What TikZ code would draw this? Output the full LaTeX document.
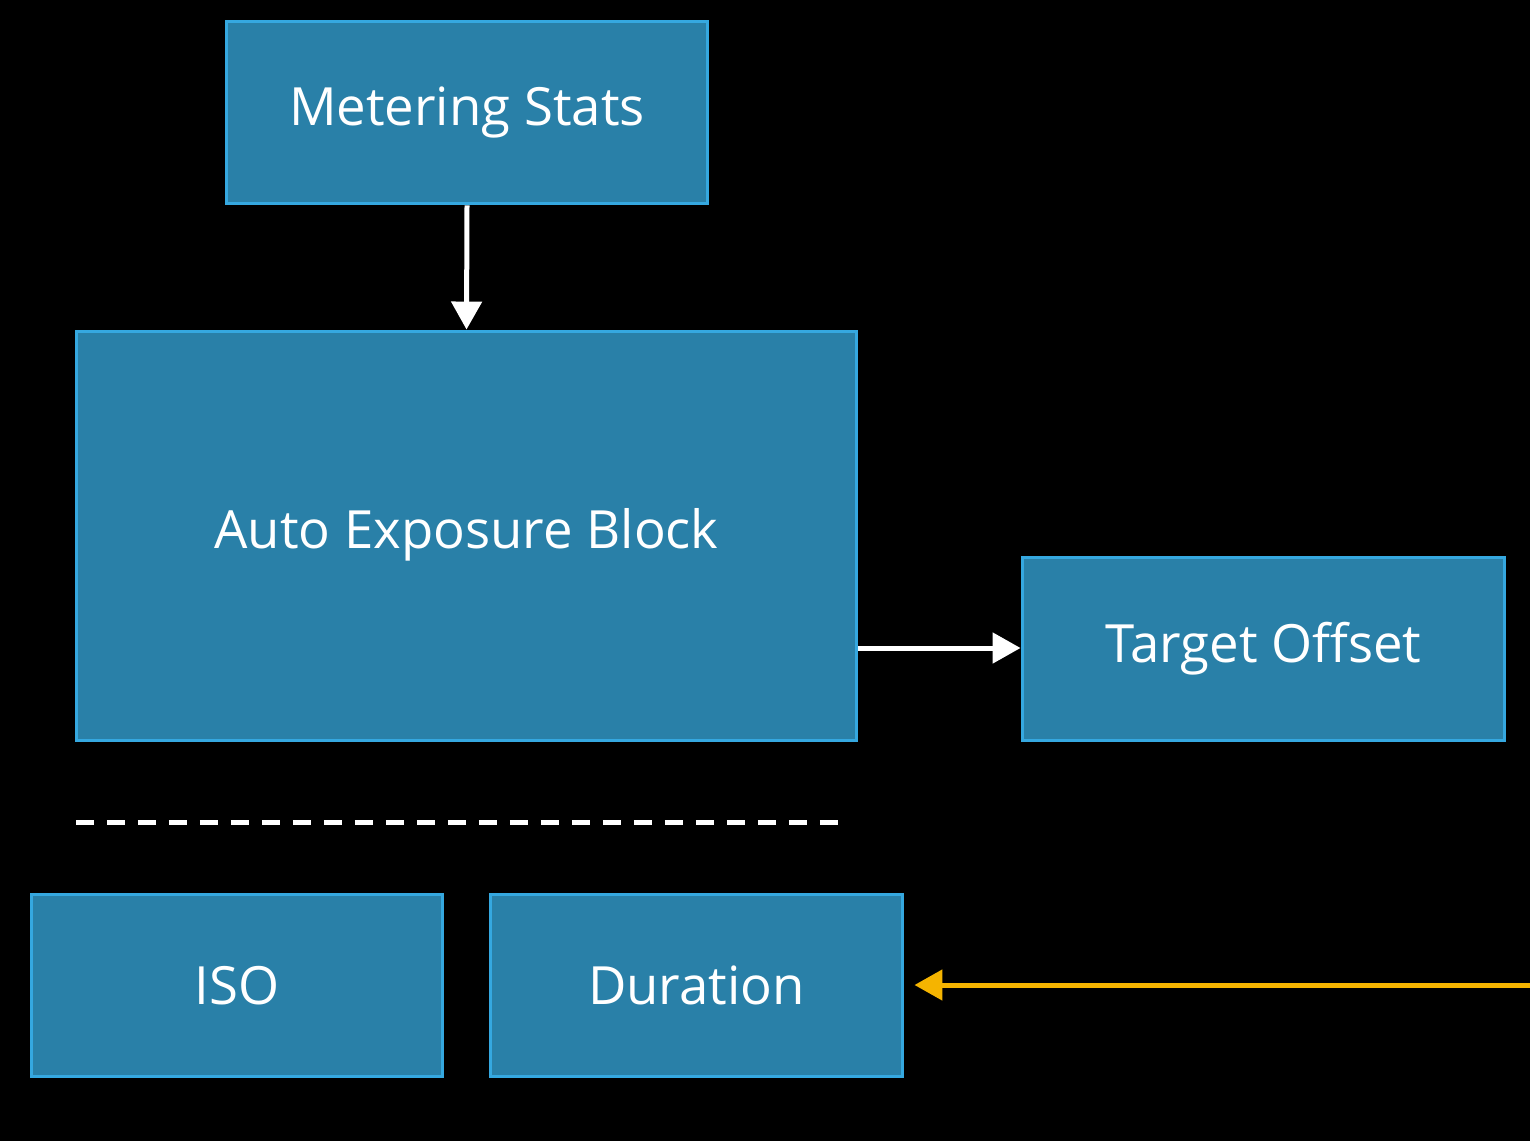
\documentclass[tikz,border=0pt]{standalone}
\usepackage{fontspec}
\setmainfont{Open Sans}
\usetikzlibrary{arrows.meta}
\definecolor{boxfill}{HTML}{2980A8}
\definecolor{boxline}{HTML}{35A8E0}
\definecolor{orng}{HTML}{F5B400}
\begin{document}
\begin{tikzpicture}[x=0.02cm,y=-0.02cm,
  blk/.style={draw=boxline,fill=boxfill,line width=0.06cm,text=white,font=\fontsize{30}{36}\selectfont},
  conn/.style={line width=0.1cm,-{Triangle[length=0.56cm,width=0.6cm]}}]
\fill[black] (0,0) rectangle (1530,1141);
\useasboundingbox (0,0) rectangle (1530,1141);
\node[blk,minimum width=9.64cm,minimum height=3.66cm] (ms) at (467,112.5) {Metering Stats};
\node[blk,minimum width=15.62cm,minimum height=8.2cm] (aeb) at (466.5,536) {};
\node[text=white,font=\fontsize{30}{36}\selectfont] (aebt) at (466.5,535) {Auto Exposure Block};
\node[blk,minimum width=9.66cm,minimum height=3.68cm] (to) at (1263.5,649) {Target Offset};
\node[blk,minimum width=8.24cm,minimum height=3.66cm] (iso) at (237,985.5) {ISO};
\node[blk,minimum width=8.26cm,minimum height=3.66cm] (dur) at (696.5,985.5) {Duration};
\coordinate (dl) at (76,822);
\coordinate (dr) at (850,822);
\coordinate (oe) at (1530,985);
\draw[conn,white] (ms.south) -- (aeb.north);
\draw[conn,white] (aeb.east |- 0,648) -- (to.west |- 0,648);
\draw[white,line width=0.1cm,dash pattern=on 0.36cm off 0.26cm] (dl) -- (dr);
\draw[conn,orng] (oe) -- ([xshift=0.2cm]dur.east |- oe);
\end{tikzpicture}
\end{document}
